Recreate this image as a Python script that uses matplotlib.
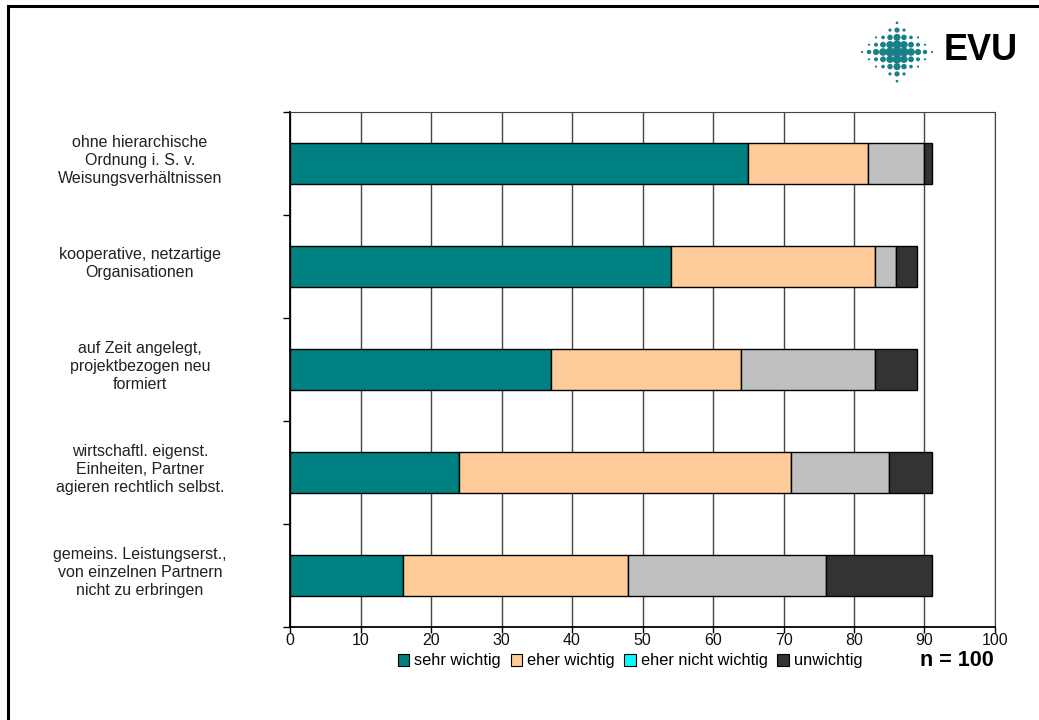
import numpy as np
import matplotlib.pyplot as plt
from matplotlib.patches import Rectangle, Patch

plt.rcParams['font.family'] = ['Liberation Sans', 'DejaVu Sans']

# --- data ---
categories = [
    "ohne hierarchische\nOrdnung i. S. v.\nWeisungsverhältnissen",
    "kooperative, netzartige\nOrganisationen",
    "auf Zeit angelegt,\nprojektbezogen neu\nformiert",
    "wirtschaftl. eigenst.\nEinheiten, Partner\nagieren rechtlich selbst.",
    "gemeins. Leistungserst.,\nvon einzelnen Partnern\nnicht zu erbringen",
]
sehr_wichtig = [65, 54, 37, 24, 16]
eher_wichtig = [17, 29, 27, 47, 32]
eher_nicht_wichtig = [8, 3, 19, 14, 28]
unwichtig = [1, 3, 6, 6, 15]
series_names = ["sehr wichtig", "eher wichtig", "eher nicht wichtig", "unwichtig"]
xticks = list(range(0, 101, 10))

bar_colors = ['#008080', '#FFCC99', '#C0C0C0', '#333333']
legend_colors = ['#008080', '#FFCC99', '#00FFFF', '#333333']

fig = plt.figure(figsize=(10.39, 7.2), dpi=100)
W, H = 1039, 720
ax = fig.add_axes([290 / W, 1 - 627 / H, 705 / W, 515 / H])

y = np.arange(len(categories))
left = np.zeros(len(categories))
for vals, col in zip([sehr_wichtig, eher_wichtig, eher_nicht_wichtig, unwichtig], bar_colors):
    ax.barh(y, vals, left=left, height=0.39, color=col, edgecolor='black', linewidth=1.0, zorder=3)
    left += np.array(vals)

ax.set_xlim(0, 100)
ax.set_ylim(len(categories) - 0.5, -0.5)
ax.set_xticks(xticks)
ax.set_xticklabels([str(t) for t in xticks], fontsize=11.5, color='#111111')
ax.xaxis.grid(True, color='#444444', linewidth=1.0, zorder=0)

# y ticks at category boundaries, labels centred on categories
ax.set_yticks(np.arange(len(categories) + 1) - 0.5)
ax.set_yticklabels([])
ax.tick_params(axis='y', length=5, width=1, direction='out')
ax.tick_params(axis='x', length=4, width=1, direction='out', pad=0.5)
for i, lab in enumerate(categories):
    ax.text(-0.213, i - 0.03, lab, transform=ax.get_yaxis_transform(), ha='center', va='center',
            fontsize=11.5, color='#222222', linespacing=1.25)

for s in ['left', 'bottom']:
    ax.spines[s].set_linewidth(1.3)
    ax.spines[s].set_color('black')
ax.spines['top'].set_color('#444444')
ax.spines['right'].set_color('#444444')

# legend
handles = [Patch(facecolor=c, edgecolor='black', linewidth=0.8) for c in legend_colors]
fig.legend(handles, series_names, loc='center', bbox_to_anchor=(630 / W, 1 - 661 / H),
           ncol=4, frameon=False, fontsize=11.8, handlelength=0.7, handleheight=0.7,
           handletextpad=0.3, columnspacing=0.6)

fig.text(957 / W, 1 - 660 / H, "n = 100", fontsize=15.5, fontweight='bold',
         ha='center', va='center')

# outer frame
fig.add_artist(Rectangle((8 / W, -0.05), 1.2, (1 - 6 / H) + 0.05, transform=fig.transFigure,
                         fill=False, edgecolor='black', linewidth=2.2))

# logo (dotted diamond)
lax = fig.add_axes([857 / W, 1 - 92 / H, 80 / W, 80 / H])
lax.set_xlim(-40, 40)
lax.set_ylim(-40, 40)
lax.axis('off')
gx, gy, gs = [], [], []
for i in range(-5, 6):
    for j in range(-4, 5):
        d = abs(i) / 5.5 + abs(j) / 4.6
        if d <= 1.0:
            gx.append(i * 7)
            gy.append(j * 7.3)
            gs.append(max(2.5, 55 * (1 - d) ** 1.3))
lax.scatter(gx, gy, s=gs, color='#1A7F86', linewidths=0)
fig.text(944 / W, 1 - 51 / H, "EVU", fontsize=26, fontweight='bold', ha='left', va='center')

fig.savefig("out.png", dpi=100)
